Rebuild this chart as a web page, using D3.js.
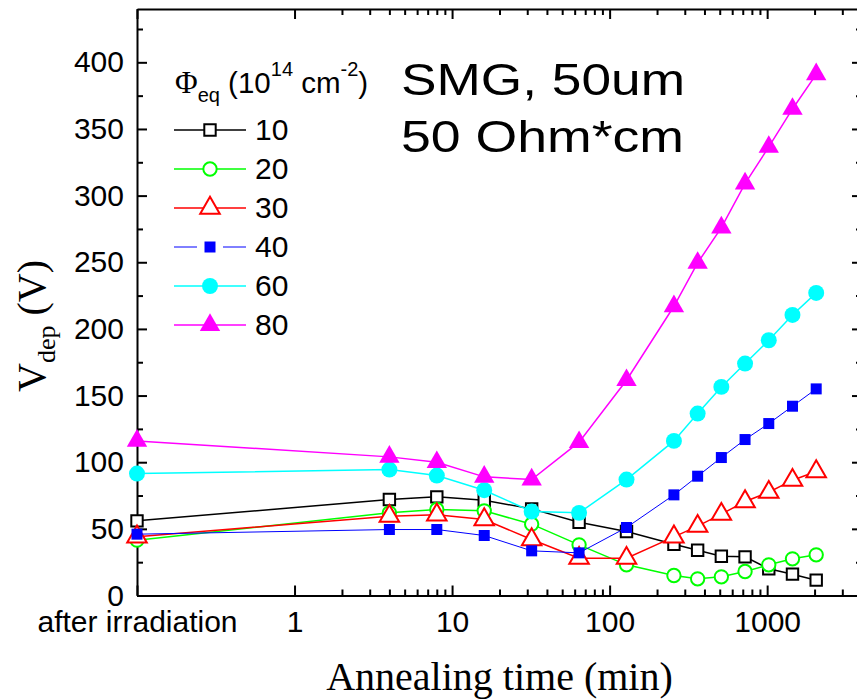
<!DOCTYPE html>
<html>
<head>
<meta charset="utf-8">
<script src="https://cdn.jsdelivr.net/npm/d3@7"></script>
<style>
  body { margin: 0; background: #fff; }
  svg { display: block; }
  .tick text { font-family: "Liberation Sans", Arial, sans-serif; font-size: 30px; fill: #000; }
  .axis path, .axis line { stroke: #000; stroke-width: 2px; }
</style>
</head>
<body>
<svg id="chart" width="857" height="699"></svg>
<script>
// annealing times (min); 0.1 stands for "after irradiation"
const times = [0.1, 4, 8, 16, 32, 64, 128, 256, 362, 512, 724, 1024, 1448, 2048];
const fluences = ['10', '20', '30', '40', '60', '80'];

const v10 = [56, 72, 74, 71.5, 65, 55, 48, 38.5, 34, 29.5, 29, 20, 16, 11.5];
const v20 = [41.5, 62, 64.5, 63.5, 53.5, 38, 23, 15, 12.5, 14, 18, 23, 27.5, 30.5];
const v30 = [44, 59.5, 60.5, 57, 42, 28, 28, 44, 52, 61, 70.5, 77.5, 86.5, 93];
const v40 = [46, 49.5, 49.5, 45, 33.5, 32, 51, 75.5, 89.5, 103.5, 117, 129, 142, 155];
const v60 = [91.5, 94.5, 90, 79, 63, 62, 87, 116, 136.5, 156.5, 174, 191.5, 210.5, 227];
const v80 = [116, 104, 100, 89, 87, 115, 161.5, 217, 249.5, 276, 309, 336.5, 365, 391];

const xMajor = [0.1, 1, 10, 100, 1000];
const xMinor = [2, 3, 4, 5, 6, 7, 8, 9, 20, 30, 40, 50, 60, 70, 80, 90,
                200, 300, 400, 500, 600, 700, 800, 900, 2000, 3000];
const yMajor = d3.range(0, 401, 50);
const yMinor = d3.range(25, 440, 50);

const values = [v10, v20, v30, v40, v60, v80];
const styles = [
  { color: '#000000', sym: d3.symbolSquare,   size: 130, fill: false, lw: 1.5 },
  { color: '#00ff00', sym: d3.symbolCircle,   size: 140, fill: false, lw: 1.5 },
  { color: '#ff0000', sym: d3.symbolTriangle, size: 165, fill: false, lw: 1.5 },
  { color: '#0000ff', sym: d3.symbolSquare,   size: 121, fill: true,  lw: 1 },
  { color: '#00ffff', sym: d3.symbolCircle,   size: 200, fill: true,  lw: 1.5 },
  { color: '#ff00ff', sym: d3.symbolTriangle, size: 180, fill: true,  lw: 1.5 }
];

const L = 137, R = 862, T = 9, B = 595.5;
const svg = d3.select('#chart');
const x = d3.scaleLog().domain([0.1, 4000]).range([L, R]);
const y = d3.scaleLinear().domain([0, 440]).range([B, T]);

// axes (ticks point inward)
const gx = svg.append('g').attr('class', 'axis').attr('transform', `translate(0,${B})`);
gx.call(d3.axisBottom(x).tickValues(xMajor).tickSize(-10).tickSizeOuter(0).tickPadding(15)
  .tickFormat(d => d === 0.1 ? 'after irradiation' : d3.format('d')(d)));
gx.append('g').call(d3.axisBottom(x).tickValues(xMinor).tickSize(-6).tickSizeOuter(0).tickFormat(''))
  .select('.domain').remove();

const gt = svg.append('g').attr('class', 'axis').attr('transform', `translate(0,${T})`);
gt.call(d3.axisTop(x).tickValues(xMajor).tickSize(-10).tickSizeOuter(0).tickFormat(''));
gt.append('g').call(d3.axisTop(x).tickValues(xMinor).tickSize(-6).tickSizeOuter(0).tickFormat(''))
  .select('.domain').remove();

const gy = svg.append('g').attr('class', 'axis').attr('transform', `translate(${L},0)`);
gy.call(d3.axisLeft(y).tickValues(yMajor).tickSize(-10).tickSizeOuter(0).tickPadding(13));
gy.append('g').call(d3.axisLeft(y).tickValues(yMinor).tickSize(-6).tickSizeOuter(0).tickFormat(''))
  .select('.domain').remove();

const gr = svg.append('g').attr('class', 'axis').attr('transform', `translate(${R},0)`);
gr.call(d3.axisRight(y).tickValues(yMajor).tickSize(-10).tickSizeOuter(0).tickFormat(''));
gr.append('g').call(d3.axisRight(y).tickValues(yMinor).tickSize(-6).tickSizeOuter(0).tickFormat(''))
  .select('.domain').remove();

// series
const line = d3.line().x(d => x(d[0])).y(d => y(d[1]));
values.forEach((vals, i) => {
  const s = styles[i];
  const pts = times.map((t, j) => [t, vals[j]]);
  svg.append('path').attr('d', line(pts)).attr('fill', 'none')
    .attr('stroke', s.color).attr('stroke-width', s.lw);
  svg.append('g').selectAll('path').data(pts).join('path')
    .attr('transform', d => `translate(${x(d[0])},${y(d[1])})`)
    .attr('d', d3.symbol().type(s.sym).size(s.size))
    .attr('fill', s.fill ? s.color : '#fff')
    .attr('stroke', s.fill ? 'none' : s.color)
    .attr('stroke-width', 2);
});

// legend
const leg = svg.append('g').attr('font-family', '"Liberation Sans", Arial, sans-serif');
const title = leg.append('text').attr('x', 175).attr('y', 93).attr('font-size', 29.5);
title.append('tspan').attr('font-family', '"Liberation Serif", "Times New Roman", serif').attr('font-size', 31).text('Φ');
title.append('tspan').attr('font-size', 20).attr('dy', 9).text('eq');
title.append('tspan').attr('dy', -9).text(' (10');
title.append('tspan').attr('font-size', 20).attr('dy', -17).text('14');
title.append('tspan').attr('dy', 17).text(' cm');
title.append('tspan').attr('font-size', 20).attr('dy', -17).text('-2');
title.append('tspan').attr('dy', 17).text(')');

fluences.forEach((f, i) => {
  const s = styles[i];
  const cy = 130 + i * 39;
  const g = leg.append('g');
  if (s.lw === 1) {
    g.append('line').attr('x1', 174).attr('x2', 197).attr('y1', cy).attr('y2', cy).attr('stroke', s.color).attr('stroke-width', 1);
    g.append('line').attr('x1', 223).attr('x2', 246).attr('y1', cy).attr('y2', cy).attr('stroke', s.color).attr('stroke-width', 1);
  } else {
    g.append('line').attr('x1', 174).attr('x2', 246).attr('y1', cy).attr('y2', cy).attr('stroke', s.color).attr('stroke-width', s.lw);
  }
  g.append('path').attr('transform', `translate(210,${cy})`)
    .attr('d', d3.symbol().type(s.sym).size(s.size))
    .attr('fill', s.fill ? s.color : '#fff')
    .attr('stroke', s.fill ? 'none' : s.color).attr('stroke-width', 2);
  g.append('text').attr('x', 255).attr('y', cy + 10).attr('font-size', 30).text(f);
});

// annotation
const ann = svg.append('g').attr('font-family', '"Liberation Sans", Arial, sans-serif').attr('font-size', 45);
ann.append('text').attr('x', 401).attr('y', 95).attr('textLength', 284).attr('lengthAdjust', 'spacingAndGlyphs').text('SMG, 50um');
ann.append('text').attr('x', 401).attr('y', 152).attr('textLength', 283).attr('lengthAdjust', 'spacingAndGlyphs').text('50 Ohm*cm');

// axis titles
svg.append('text').attr('x', (L + R) / 2).attr('y', 690).attr('text-anchor', 'middle')
  .attr('font-family', '"Liberation Serif", "Times New Roman", serif').attr('font-size', 40)
  .text('Annealing time (min)');
const yt = svg.append('text').attr('transform', 'translate(45,326) rotate(-90)').attr('text-anchor', 'middle')
  .attr('font-family', '"Liberation Serif", "Times New Roman", serif').attr('font-size', 40);
yt.append('tspan').text('V');
yt.append('tspan').attr('font-size', 26).attr('dy', 10).text('dep');
yt.append('tspan').attr('dy', -10).text(' (V)');
</script>
</body>
</html>
